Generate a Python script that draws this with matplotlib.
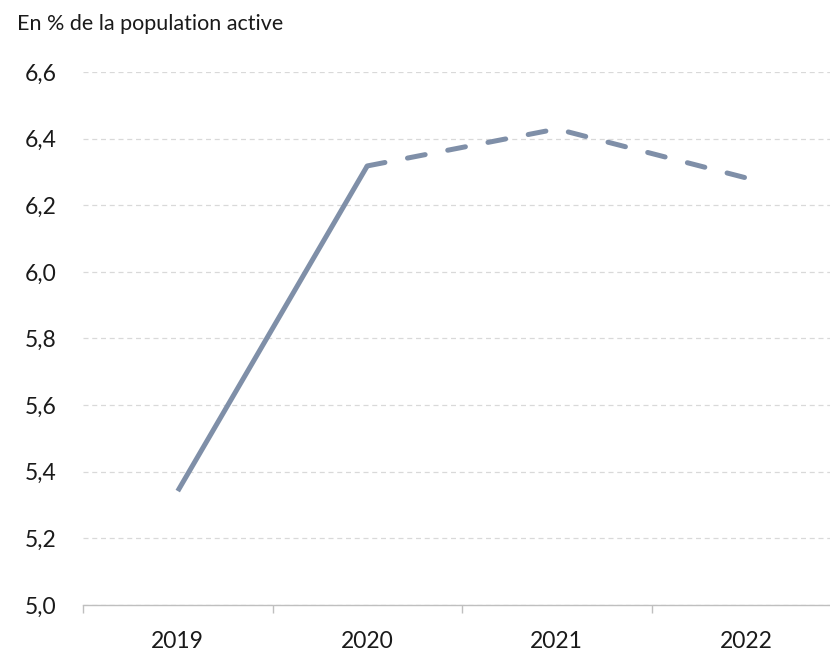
import matplotlib.pyplot as plt
from matplotlib.ticker import FixedLocator, FuncFormatter

# Taux de chômage, en % de la population active
annees = ['2019', '2020', '2021', '2022']
taux = [5.342, 6.318, 6.429, 6.282]
n_obs = 2  # 2019-2020 observés, ensuite prévisions

couleur = '#7F8FA8'
plt.rcParams['font.family'] = ['Lato', 'DejaVu Sans']

fig = plt.figure(figsize=(8.3, 6.52), dpi=100)
ax = fig.add_axes([83 / 830, 1 - 605 / 652, 758 / 830, 533 / 652])

x = list(range(len(annees)))
ax.plot(x[:n_obs], taux[:n_obs], color=couleur, lw=3.6, solid_capstyle='butt')
ax.plot(x[n_obs - 1:], taux[n_obs - 1:], color=couleur, lw=3.6,
        dashes=(3.6, 4.6), dash_capstyle='round')

ax.set_xlim(-0.5, len(annees) - 0.5)
ax.set_ylim(5.0, 6.6)
ax.set_yticks([5.0 + 0.2 * i for i in range(9)])
ax.yaxis.set_major_formatter(FuncFormatter(lambda v, p: f'{v:.1f}'.replace('.', ',')))
ax.set_xticks(x)
ax.set_xticklabels(annees)
ax.xaxis.set_minor_locator(FixedLocator([i - 0.5 for i in range(len(annees) + 1)]))

ax.grid(axis='y', color='#D9D9D9', linestyle=(0, (4, 3)), linewidth=0.9)
ax.set_axisbelow(True)
for s in ['top', 'right', 'left']:
    ax.spines[s].set_visible(False)
ax.spines['bottom'].set_color('#BFBFBF')
ax.spines['bottom'].set_linewidth(1.0)

ax.tick_params(axis='y', length=0, labelsize=16.5, pad=19, labelcolor='#1a1a1a')
ax.tick_params(axis='x', which='major', length=0, labelsize=16.5, pad=19, labelcolor='#1a1a1a')
ax.tick_params(axis='x', which='minor', length=6, color='#BFBFBF', width=1.0)

fig.text(17 / 830, 1 - 24 / 652, 'En % de la population active', fontsize=15.5,
         va='center', ha='left', color='#1a1a1a')

fig.savefig('out.png', dpi=100)
